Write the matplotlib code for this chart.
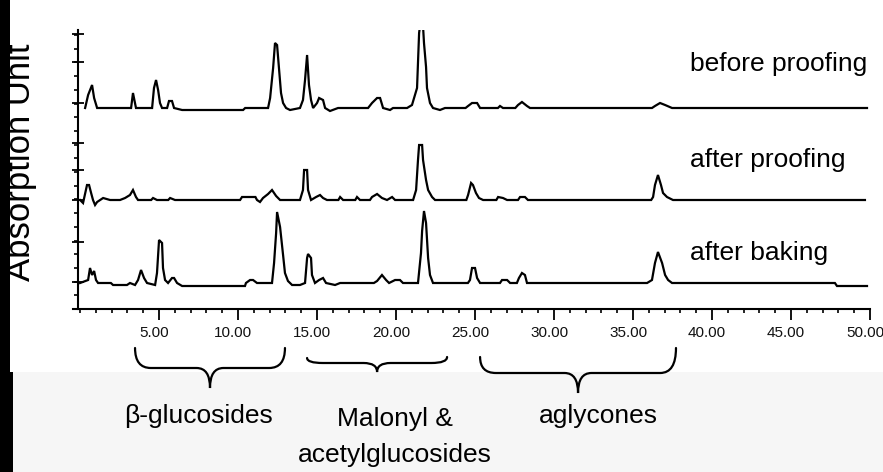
import matplotlib.pyplot as plt
import matplotlib.transforms as mtransforms
from matplotlib.path import Path
from matplotlib.patches import PathPatch, Rectangle
from matplotlib.ticker import FixedLocator, MultipleLocator

W, H = 883, 472

# retention time (min) / detector signal relative to each trace's own baseline
before_t = [0.32, 0.51, 0.76, 0.89, 1.08, 3.23, 3.35, 3.54, 4.56, 4.68, 4.81, 4.94, 5.06, 5.19,
            5.51, 5.63, 5.82, 5.95, 6.46, 10.32, 10.45, 11.90, 12.03, 12.22, 12.34, 12.47, 12.59,
            12.72, 12.85, 13.04, 13.29, 13.92, 14.11, 14.24, 14.37, 14.49, 14.62, 14.75, 15.00,
            15.13, 15.38, 15.51, 15.82, 16.33, 18.23, 18.48, 18.80, 18.99, 19.18, 19.62, 19.81,
            20.70, 21.01, 21.33, 21.46, 21.65, 21.77, 21.90, 21.96, 22.15, 22.34, 22.78, 23.10,
            24.40, 24.56, 24.81, 25.13, 25.32, 26.45, 26.58, 26.77, 27.55, 27.72, 27.97, 28.29,
            28.48, 36.20, 36.39, 36.71, 37.03, 37.47, 49.81]
before_y = [0, 13, 23, 10, 0, 0, 15, 0, 0, 20, 28, 18, 5, 0,
            0, 7, 7, 0, -2, -2, 0, 0, 10, 40, 65, 63, 40,
            15, 5, 0, -2, 0, 8, 28, 53, 23, 8, 0, 5,
            10, 8, 0, -3, 0, 0, 5, 10, 10, 0, -2, 0,
            0, 3, 20, 75, 98, 65, 41, 20, 5, 0, -2, 0,
            0, 2, 5, 5, 0, 0, 2, 0, 0, 3, 6, 2,
            0, 0, 2, 5, 3, 0, 0]

proofed_t = [0.00, 0.19, 0.44, 0.57, 0.70, 0.82, 0.95, 1.08, 1.27, 1.46, 1.90, 2.53, 2.85, 3.16,
             3.35, 3.54, 3.67, 4.50, 4.62, 4.87, 5.58, 5.70, 6.01, 10.13, 10.25, 11.10, 11.20,
             11.39, 11.58, 11.90, 12.15, 12.41, 12.66, 13.92, 14.11, 14.18, 14.37, 14.43, 14.62,
             14.94, 15.19, 15.38, 15.63, 16.35, 16.46, 16.65, 17.42, 17.53, 17.72, 18.35, 18.48,
             18.80, 19.11, 19.43, 19.75, 19.94, 21.08, 21.27, 21.39, 21.46, 21.65, 21.71, 21.90,
             22.03, 22.28, 22.47, 24.45, 24.56, 24.75, 24.87, 25.06, 25.25, 25.51, 26.35, 26.46,
             26.77, 27.03, 27.72, 27.85, 28.16, 28.35, 36.15, 36.27, 36.39, 36.58, 36.77, 36.90,
             37.15, 37.53, 49.68]
proofed_y = [0, -3, 15, 15, 7, 0, -5, -2, 0, 2, 0, 0, 2, 5,
             10, 3, 0, 0, 2, 0, 0, 2, 0, 0, 3, 3, 0,
             -2, 2, 6, 10, 4, 0, 0, 10, 30, 30, 10, 0,
             3, 5, 2, 0, 0, 3, 0, 0, 3, 0, 0, 3,
             6, 2, 0, 3, 0, 0, 10, 40, 55, 55, 40, 20,
             10, 3, 0, 0, 5, 17, 15, 7, 2, 0, 0, 3,
             2, 0, 0, 3, 3, 0, 0, 3, 15, 25, 15, 7,
             3, 0, 0]

baked_t = [0.00, 0.51, 0.63, 0.76, 0.89, 1.01, 1.14, 1.95, 2.09, 2.97, 3.16, 3.48, 3.67, 3.86,
           4.05, 4.24, 4.75, 4.87, 5.00, 5.19, 5.25, 5.38, 5.57, 5.82, 5.95, 6.14, 6.46, 10.44,
           10.50, 10.76, 10.95, 11.20, 12.15, 12.28, 12.41, 12.47, 12.66, 12.85, 12.97, 13.16,
           13.42, 13.92, 14.24, 14.37, 14.43, 14.62, 14.68, 14.87, 15.13, 15.38, 15.57, 16.14,
           16.46, 18.60, 18.80, 19.11, 19.37, 19.56, 19.94, 20.25, 20.44, 21.39, 21.58, 21.65,
           21.77, 21.90, 22.03, 22.15, 22.34, 24.55, 24.68, 24.81, 25.00, 25.13, 25.32, 26.58,
           26.71, 27.03, 27.22, 27.65, 27.78, 27.97, 28.16, 28.29, 35.89, 36.20, 36.39, 36.58,
           36.84, 37.03, 37.22, 37.47, 47.78, 47.91, 49.81]
baked_y = [0, 3, 15, 8, 12, 3, 0, 0, -2, -2, 0, -2, 3, 13,
           5, 0, -2, 10, 43, 40, 15, 3, 0, 5, 5, 0, -3, -3,
           0, 3, 3, 0, 0, 20, 50, 71, 56, 28, 10, 2,
           -2, -2, 0, 25, 29, 25, 8, 0, 3, 5, 0, -2,
           0, 0, 2, 8, 3, 0, 3, 3, 0, 0, 30, 52,
           72, 60, 25, 8, 0, 0, 3, 15, 15, 5, 0, 0,
           3, 3, 0, 0, 5, 10, 8, 0, 0, 3, 20, 31,
           20, 8, 3, 0, 0, -3, -3]

sample_names = ["before proofing", "after proofing", "after baking"]
group_names = ["\u03b2-glucosides", "Malonyl &\nacetylglucosides", "aglycones"]
group_ranges = [(3.48, 12.97), (14.37, 23.23), (25.32, 37.72)]

x_ticks = [5, 10, 15, 20, 25, 30, 35, 40, 45, 50]
x_tick_labels = ["5.00", "10.00", "15.00", "20.00", "25.00",
                 "30.00", "35.00", "40.00", "45.00", "50.00"]
y_ticks = [27, 67, 109, 139, 166, 206, 247, 275]

sans = ["Liberation Sans", "DejaVu Sans"]

fig = plt.figure(figsize=(W / 100, H / 100), dpi=100)
# pixel coordinates measured from the top-left corner of the picture
px = mtransforms.Affine2D().scale(1 / W, -1 / H).translate(0, 1) + fig.transFigure

fig.add_artist(Rectangle((0, 0), 10, 372, transform=px, color="black", lw=0, zorder=0))
fig.add_artist(Rectangle((0, 372), 13, 100, transform=px, color="black", lw=0, zorder=0))
fig.add_artist(Rectangle((13, 372), W - 13, 100, transform=px, color="#f6f6f6", lw=0, zorder=0))

ax = fig.add_axes([78 / W, 1 - 309 / H, 792 / W, 279 / H])
ax.patch.set_visible(False)

offsets = [201, 109, 26]
traces = [(before_t, before_y), (proofed_t, proofed_y), (baked_t, baked_y)]
for (t, y), off in zip(traces, offsets):
    ax.plot(t, [v + off for v in y], color="black", lw=1.6, solid_joinstyle="miter")

ax.set_xlim(-0.13, 50)
ax.set_ylim(0, 279)
for side in ("top", "right"):
    ax.spines[side].set_visible(False)
for side in ("left", "bottom"):
    ax.spines[side].set_linewidth(1.5)
ax.spines["bottom"].set_bounds(-0.45, 50)

ax.xaxis.set_major_locator(FixedLocator(x_ticks))
ax.set_xticklabels(x_tick_labels, family=sans, fontsize=11, color="#111111")
ax.xaxis.set_minor_locator(MultipleLocator(1))
ax.tick_params(axis="x", which="major", direction="out", length=8, width=1.3, pad=4)
ax.tick_params(axis="x", which="minor", direction="out", length=3, width=1.2)
shift = mtransforms.ScaledTranslation(-5 / 100, 0, fig.dpi_scale_trans)
for lab in ax.get_xticklabels():
    lab.set_transform(lab.get_transform() + shift)

ax.yaxis.set_major_locator(FixedLocator(y_ticks))
ax.yaxis.set_minor_locator(MultipleLocator(13.7))
ax.set_yticklabels([])
ax.tick_params(axis="y", which="major", direction="inout", length=9, width=1.3)
ax.tick_params(axis="y", which="minor", direction="out", length=3, width=1.2)

fig.text(21 / W, 1 - 162 / H, "Absorption Unit", rotation=90, ha="center", va="center",
         family=sans, fontsize=25, color="black", zorder=3)

for name, base in zip(sample_names, [71, 167, 260]):
    fig.text(690, base, name, transform=px, ha="left", va="baseline",
             family=sans, fontsize=19)


def brace(x0, x1, top_l, top_r, mid, tip, r=1.0, r2=0.85):
    xc = (x0 + x1) / 2
    verts = [(x0, top_l), (x0, mid), (x0 + r, mid), (xc - r2, mid), (xc, mid), (xc, tip),
             (xc, mid), (xc + r2, mid), (x1 - r, mid), (x1, mid), (x1, top_r)]
    codes = [Path.MOVETO, Path.CURVE3, Path.CURVE3, Path.LINETO, Path.CURVE3, Path.CURVE3,
             Path.CURVE3, Path.CURVE3, Path.LINETO, Path.CURVE3, Path.CURVE3]
    tr = mtransforms.blended_transform_factory(ax.transData, px)
    ax.add_patch(PathPatch(Path(verts, codes), transform=tr, fill=False, lw=1.6,
                           edgecolor="black", clip_on=False, capstyle="round"))


brace(*group_ranges[0], 348, 348, 368, 388)
brace(*group_ranges[1], 358, 357, 363, 372)
brace(*group_ranges[2], 357, 348, 373, 393)

# va="baseline" on multi-line text anchors the last line, so push it down by a line each
for name, cx in zip(group_names, [199, 395, 598]):
    n_extra = name.count("\n")
    fig.text(cx, 423 + 39 * n_extra, name, transform=px, ha="center", va="baseline",
             multialignment="center", family=sans, fontsize=19, linespacing=1.64)

fig.savefig("out.png", dpi=100)
